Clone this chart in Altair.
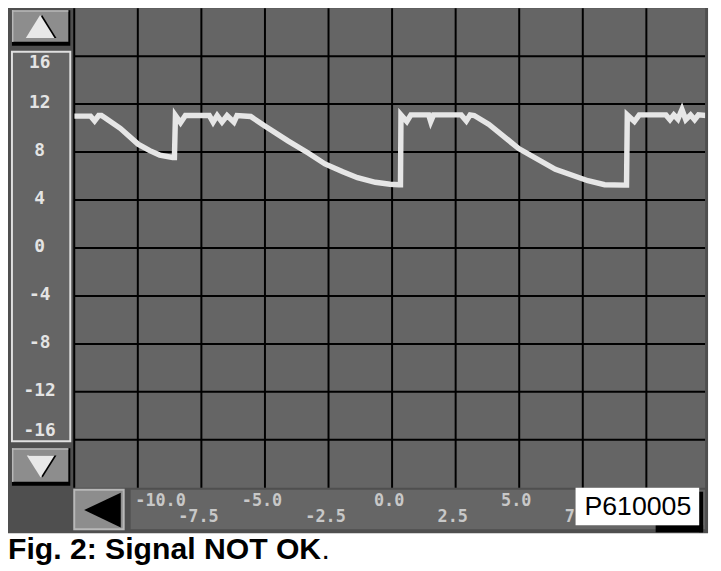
import altair as alt
import pandas as pd

# ---- trace (time, signal) ----
t = [-12.5, -11.86, -11.70, -11.54, -11.43, -11.28, -10.69, -9.99, -9.53, -9.14, -8.63, -8.56,
     -8.52, -8.32, -8.13, -7.19, -7.04, -6.88, -6.69, -6.49, -6.22, -6.10, -5.56,
     -5.05, -4.08, -3.30, -2.64, -1.94, -1.36, -0.66, -0.08, 0.27, 0.33,
     0.35, 0.58, 0.74, 1.44, 1.52, 1.63, 2.72, 2.92, 3.07, 3.23,
     3.81, 4.98, 6.42, 7.70, 8.36, 9.14, 9.22,
     9.25, 9.53, 9.72, 10.77, 10.93, 11.08, 11.24, 11.40, 11.55, 11.74, 11.90, 12.05, 12.36]
v = [11.0, 11.0, 10.6, 11.05, 11.05, 10.85, 9.98, 8.66, 8.12, 7.75, 7.55, 7.55,
     11.05, 10.45, 11.05, 11.05, 10.5, 11.05, 10.5, 11.05, 10.5, 11.05, 10.97,
     10.23, 8.91, 7.92, 7.01, 6.35, 5.86, 5.48, 5.32, 5.28, 5.28,
     11.1, 10.55, 11.1, 11.1, 10.55, 11.1, 11.1, 10.6, 11.1, 11.05,
     10.31, 8.29, 6.56, 5.61, 5.28, 5.24, 5.24,
     11.1, 10.55, 11.1, 11.1, 10.7, 11.1, 10.75, 11.55, 10.7, 11.1, 10.7, 11.1, 11.05]

x_grid = [-12.5, -10.0, -7.5, -5.0, -2.5, 0.0, 2.5, 5.0, 7.5, 10.0]
y_grid = [16, 12, 8, 4, 0, -4, -8, -12, -16]
y_labels = ["16", "12", "8", "4", "0", "-4", "-8", "-12", "-16"]
x_row1 = [-10.0, -5.0, 0.0, 5.0]
x_row1_labels = ["-10.0", "-5.0", "0.0", "5.0"]
x_row2 = [-7.5, -2.5, 2.5, 7.5]
x_row2_labels = ["-7.5", "-2.5", "2.5", "7.5"]
tag = "P610005"
caption = "Fig. 2: Signal NOT OK"
caption_end = "."

W, H = 638, 485
xs = alt.Scale(domain=[-12.5, 12.31], nice=False, zero=False)
ys = alt.Scale(domain=[-20, 20], nice=False, zero=False)

trace = pd.DataFrame({"t": t, "v": v})
gx = pd.DataFrame({"g": x_grid})
gy = pd.DataFrame({"g": y_grid})
ylab = pd.DataFrame({"v": y_grid, "lab": y_labels})
r1 = pd.DataFrame({"t": x_row1, "lab": x_row1_labels})
r2 = pd.DataFrame({"t": x_row2, "lab": x_row2_labels})
dummy = pd.DataFrame({"k": [0]})

FRAME = "#4f4f4f"
SCREEN = "#656565"
BTN = "#8d8d8d"


def rect(x1, y1, x2, y2, fill, stroke=None, sw=0):
    kw = dict(fill=fill)
    if stroke:
        kw.update(stroke=stroke, strokeWidth=sw)
    else:
        kw.update(strokeWidth=0)
    return alt.Chart(dummy).mark_rect(**kw).encode(
        x=alt.value(x1), x2=alt.value(x2), y=alt.value(y1), y2=alt.value(y2))


def tri(path, cx, cy, side, color):
    return alt.Chart(dummy).mark_point(shape=path, size=side * side, filled=True,
                                       color=color, opacity=1, strokeWidth=0).encode(
        x=alt.value(cx), y=alt.value(cy))


def label(txt, x, y, **kw):
    return alt.Chart(dummy).mark_text(text=txt, **kw).encode(x=alt.value(x), y=alt.value(y))


UP = "M0,-0.8L1,0.8L-1,0.8Z"
DOWN = "M-1,-0.8L1,-0.8L0,0.8Z"
LEFT = "M-1,0L1,-0.95L1,0.95Z"

layers = [
    rect(-71, -5, 641, 531, FRAME),
    rect(0, 0, W, H, SCREEN),
    alt.Chart(gx).mark_rule(color="black", strokeWidth=2).encode(x=alt.X("g:Q", scale=xs, axis=None)),
    alt.Chart(gy).mark_rule(color="black", strokeWidth=2).encode(y=alt.Y("g:Q", scale=ys, axis=None)),
    alt.Chart(trace).mark_line(color="#e6e6e6", strokeWidth=5.5, clip=True, strokeJoin="miter").encode(
        x=alt.X("t:Q", scale=xs, axis=None), y=alt.Y("v:Q", scale=ys, axis=None)),
    # up button
    rect(-63, 2, -4, 38, "black"),
    rect(-63, 2, -6, 34, BTN),
    rect(-63, 2, -6, 3.5, "#b8b8b8"),
    rect(-63, 2, -61.5, 34, "#b8b8b8"),
    tri(UP, -32.5, 18.5, 29, "black"),
    tri(UP, -34.5, 18.5, 29, "#e8e8e8"),
    # scale box
    rect(-63, 44, -4, 438, SCREEN, "#e0e0e0", 2),
    # down button
    rect(-63, 445, -4, 483, "black"),
    rect(-63, 445, -6, 479, BTN),
    rect(-63, 445, -6, 446.5, "#b8b8b8"),
    rect(-63, 445, -61.5, 479, "#b8b8b8"),
    tri(DOWN, -32, 463.5, 28, "black"),
    tri(DOWN, -34, 463.5, 28, "#e8e8e8"),
    # left button
    rect(0, 487, 50, 527, BTN, "#b8b8b8", 2),
    tri(LEFT, 28.5, 507.5, 37, "black"),
    # x label strip
    rect(57, 487, W, 527, "#666666"),
]

ytxt = dict(font="DejaVu Sans Mono", fontWeight="bold", fontSize=18, color="#e4e4e4",
            align="center", baseline="middle")
yenc = dict(x=alt.value(-35), y=alt.Y("v:Q", scale=ys, axis=None), text="lab:N")
layers += [
    alt.Chart(ylab).transform_filter("datum.v < 16 && datum.v > -16").mark_text(dy=-1, **ytxt).encode(**yenc),
    alt.Chart(ylab).transform_filter("datum.v == 16").mark_text(dy=7, **ytxt).encode(**yenc),
    alt.Chart(ylab).transform_filter("datum.v == -16").mark_text(dy=-9, **ytxt).encode(**yenc),
]

xtxt = dict(font="DejaVu Sans Mono", fontWeight="bold", fontSize=17, color="#c8c8c8",
            align="center", baseline="middle")
layers += [
    alt.Chart(r1).transform_filter("datum.t > -10").mark_text(dx=-3, **xtxt).encode(
        x=alt.X("t:Q", scale=xs, axis=None), y=alt.value(498), text="lab:N"),
    alt.Chart(r1).transform_filter("datum.t == -10").mark_text(dx=23, **xtxt).encode(
        x=alt.X("t:Q", scale=xs, axis=None), y=alt.value(498), text="lab:N"),
    alt.Chart(r2).mark_text(dx=-3, **xtxt).encode(
        x=alt.X("t:Q", scale=xs, axis=None), y=alt.value(515), text="lab:N"),
]

layers += [
    rect(632, 489, 636, 530, "black"),
    rect(588, 523, 636, 530, "black"),
    rect(507, 485, 632, 523, "white"),
    label(tag, 570, 513, font="Liberation Sans", fontSize=27, color="black", align="center",
          baseline="alphabetic"),
    label(caption, -67, 557, font="Liberation Sans", fontSize=30.5, fontWeight="bold",
          color="black", align="left", baseline="alphabetic"),
    label(caption_end, 250, 557, font="Liberation Sans", fontSize=30.5,
          color="black", align="left", baseline="alphabetic"),
]

chart = alt.layer(*layers).properties(
    width=W, height=H,
    autosize=alt.AutoSizeParams(type="none"),
    padding={"left": 67, "top": -3, "right": 8, "bottom": 82},
    background="white",
).configure_view(stroke=None)

chart.save("out.html", embed_options={"renderer": "svg", "actions": False})
